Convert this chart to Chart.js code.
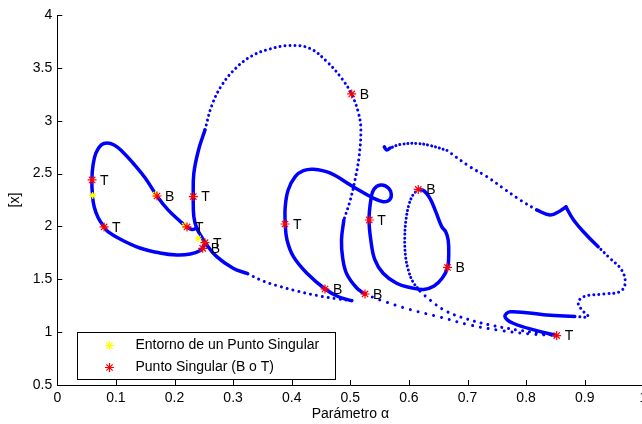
<!DOCTYPE html>
<html lang="es">
<head>
<meta charset="UTF-8" />
<title>Diagrama de continuación</title>
<script src="https://cdn.jsdelivr.net/npm/chart.js"></script>
<style>
  html, body { margin: 0; padding: 0; background: #fff; overflow: hidden; }
  #wrap { width: 670px; height: 424px; }
</style>
</head>
<body>
<div id="wrap"><canvas id="grafico" width="670" height="424"></canvas></div>
<script>
// ---- ejes ----
const xTickLabels = ['0', '0.1', '0.2', '0.3', '0.4', '0.5', '0.6', '0.7', '0.8', '0.9', '1'];
const yTickLabels = ['0.5', '1', '1.5', '2', '2.5', '3', '3.5', '4'];

// ---- tramos de la curva [alpha, |x|] ----
const loopLeft = [[0.250,1.815],[0.244,1.773],[0.227,1.739],[0.204,1.730],[0.175,1.749],[0.141,1.796],
  [0.107,1.881],[0.087,1.948],[0.080,1.995],[0.070,2.080],[0.063,2.184],[0.060,2.298],[0.059,2.440],
  [0.061,2.581],[0.066,2.695],[0.075,2.771],[0.085,2.790],[0.097,2.771],[0.110,2.714],[0.129,2.600],
  [0.150,2.458],[0.170,2.288],[0.189,2.156],[0.209,2.052],[0.221,1.995],[0.230,1.971],[0.238,1.985]];
const riseLeft = [[0.324,1.555],[0.300,1.604],[0.272,1.714],[0.255,1.825],[0.246,1.903],[0.238,1.983],
  [0.233,2.092],[0.232,2.282],[0.233,2.503],[0.241,2.723],[0.252,2.913]];
const archTop = [[0.252,2.913],[0.264,3.149],[0.281,3.338],[0.305,3.499],[0.332,3.613],[0.363,3.679],[0.397,3.712],
  [0.431,3.684],[0.460,3.559],[0.485,3.402],[0.502,3.253],[0.514,3.071],[0.518,2.913],[0.515,2.660],
  [0.508,2.440],[0.500,2.250],[0.489,2.061]];
const dropMid = [[0.489,2.061],[0.485,1.872],[0.487,1.702],[0.494,1.550],[0.511,1.418],[0.525,1.361]];
const tailLow = [[0.525,1.361],[0.551,1.304],[0.602,1.214],[0.653,1.143],[0.704,1.068],[0.756,1.016],
  [0.807,0.983],[0.852,0.968]];
const diagLeft = [[0.503,1.299],[0.479,1.314],[0.443,1.347],[0.409,1.389],[0.380,1.432],[0.351,1.484],[0.324,1.555]];
const midWind = [[0.502,1.298],[0.480,1.335],[0.457,1.408],[0.426,1.557],[0.403,1.714],[0.392,1.872],
  [0.389,2.023],[0.389,2.187],[0.394,2.345],[0.406,2.471],[0.420,2.527],[0.437,2.541],[0.465,2.506],
  [0.505,2.376],[0.539,2.269],[0.556,2.234],[0.566,2.246],[0.570,2.298],[0.565,2.364],[0.552,2.392],
  [0.540,2.350],[0.535,2.250],[0.532,2.061],[0.535,1.872],[0.542,1.683],[0.556,1.557],[0.579,1.462],
  [0.602,1.422],[0.625,1.404],[0.643,1.437],[0.657,1.512],[0.666,1.612],[0.668,1.749],[0.667,1.872],
  [0.663,1.948],[0.656,1.998],[0.646,2.137],[0.636,2.266],[0.626,2.335],[0.616,2.350]];
const loopDropA = [[0.616,2.350],[0.607,2.298],[0.600,2.203],[0.595,2.061],[0.593,1.900],[0.594,1.730],
  [0.599,1.588],[0.607,1.475],[0.619,1.389]];
const loopDropB = [[0.619,1.389],[0.636,1.304],[0.663,1.200],[0.699,1.124],[0.738,1.068],[0.790,1.016],[0.852,0.968]];
const eastA = [[0.852,0.968],[0.818,1.014],[0.778,1.084],[0.764,1.146],[0.773,1.193],[0.835,1.162],[0.883,1.148]];
const eastB = [[0.883,1.148],[0.906,1.146],[0.898,1.194],[0.889,1.273],[0.898,1.335],[0.932,1.361],
  [0.960,1.383],[0.969,1.462],[0.963,1.588],[0.943,1.699],[0.923,1.808]];
const eastC = [[0.923,1.808],[0.903,1.919],[0.881,2.061],[0.868,2.185]];
const eastD = [[0.868,2.185],[0.858,2.146],[0.841,2.108],[0.818,2.156]];
const eastE = [[0.818,2.156],[0.790,2.250],[0.761,2.361],[0.733,2.471],[0.704,2.565],[0.665,2.719]];
const eastF = [[0.665,2.719],[0.636,2.766],[0.613,2.785],[0.585,2.775],[0.568,2.742]];
const hook = [[0.568,2.742],[0.562,2.723],[0.558,2.752]];

// ---- puntos singulares (B = bifurcación, T = punto de retorno) ----
const singularPts = [[0.0594,2.440],[0.0799,1.995],[0.1701,2.288],[0.2321,2.282],[0.2213,1.995],
  [0.2520,1.846],[0.2481,1.793],[0.3886,2.023],[0.5024,3.253],[0.5324,2.061],[0.4568,1.408],
  [0.5251,1.361],[0.6160,2.350],[0.6659,1.612],[0.8522,0.968]];
const singularTags = ['T','T','B','T','T','T','B','T','B','T','B','B','B','B','T'];
const entornoPts = [[0.0604,2.293],[0.1676,2.302],[0.2171,2.009],[0.2406,1.888]];

const FONT = { family: '"Liberation Sans", Arial, Helvetica, sans-serif', size: 14 };
const AZUL = '#0000ff';
const toXY = arr => arr.map(p => ({ x: p[0], y: p[1] }));

// gap = 0 -> trazo continuo, si no puntos separados gap px
function tramo(pts, gap) {
  return {
    data: toXY(pts), showLine: true, pointRadius: 0, fill: false,
    borderColor: AZUL, borderWidth: gap ? 3 : 3.5,
    borderDash: gap ? [0.01, gap] : [],
    borderCapStyle: 'round', borderJoinStyle: 'round', tension: 0.4
  };
}

function asterisco(ctx, x, y, r, color) {
  ctx.save();
  ctx.strokeStyle = color;
  ctx.lineWidth = 1.2;
  ctx.beginPath();
  for (let k = 0; k < 4; k++) {
    const a = k * Math.PI / 4, dx = Math.cos(a) * r, dy = Math.sin(a) * r;
    ctx.moveTo(x - dx, y - dy);
    ctx.lineTo(x + dx, y + dy);
  }
  ctx.stroke();
  ctx.restore();
}

// marcas hacia adentro, etiquetas B/T y leyenda
const extras = {
  id: 'extras',
  afterDraw(chart) {
    const { ctx, chartArea: a, scales: { x, y } } = chart;
    ctx.save();
    ctx.strokeStyle = '#000';
    ctx.lineWidth = 1;
    ctx.beginPath();
    x.ticks.forEach(t => {
      const px = Math.round(x.getPixelForValue(t.value)) + 0.5;
      ctx.moveTo(px, a.bottom); ctx.lineTo(px, a.bottom - 5);
    });
    y.ticks.forEach(t => {
      const py = Math.round(y.getPixelForValue(t.value)) + 0.5;
      ctx.moveTo(a.left, py); ctx.lineTo(a.left + 5, py);
    });
    ctx.stroke();

    ctx.fillStyle = '#000';
    ctx.font = FONT.size + 'px ' + FONT.family;
    ctx.textBaseline = 'middle';
    ctx.textAlign = 'left';
    singularPts.forEach((p, i) => {
      ctx.fillText(singularTags[i], x.getPixelForValue(p[0]) + 8, y.getPixelForValue(p[1]) + 1);
    });

    // leyenda
    const lx = Math.round(a.left + 20) + 0.5, ly = Math.round(a.bottom - 53) + 0.5;
    const lw = 258, lh = 47;
    ctx.fillStyle = '#fff';
    ctx.fillRect(lx, ly, lw, lh);
    ctx.strokeRect(lx, ly, lw, lh);
    asterisco(ctx, lx + 32, ly + 13, 4.5, '#ffff00');
    asterisco(ctx, lx + 32, ly + 35, 4.5, '#ff0000');
    ctx.fillStyle = '#000';
    ctx.fillText('Entorno de un Punto Singular', lx + 58, ly + 13);
    ctx.fillText('Punto Singular (B o T)', lx + 58, ly + 35);
    ctx.restore();
  }
};

const ctx = document.getElementById('grafico').getContext('2d');
Chart.defaults.color = '#000';
Chart.defaults.font.family = FONT.family;
Chart.defaults.font.size = FONT.size;

new Chart(ctx, {
  type: 'scatter',
  data: {
    datasets: [
      {
        data: toXY(singularPts), pointStyle: 'star', pointRadius: 4.5,
        pointBorderColor: '#ff0000', pointBorderWidth: 1.2, borderColor: '#ff0000', showLine: false
      },
      {
        data: toXY(entornoPts), pointStyle: 'star', pointRadius: 3.5,
        pointBorderColor: '#ffff00', pointBorderWidth: 1.2, borderColor: '#ffff00', showLine: false
      },
      tramo(loopLeft, 0),
      tramo(riseLeft, 0),
      tramo(archTop, 5),
      tramo(dropMid, 0),
      tramo(tailLow, 8),
      tramo(diagLeft, 6),
      tramo(midWind, 0),
      tramo(loopDropA, 4),
      tramo(loopDropB, 7),
      tramo(eastA, 0),
      tramo(eastB, 5),
      tramo(eastC, 0),
      tramo(eastD, 0),
      tramo(eastE, 6),
      tramo(eastF, 4),
      tramo(hook, 0)
    ]
  },
  options: {
    responsive: false,
    animation: false,
    events: [],
    layout: { padding: { left: 0, right: 26.7, top: 15, bottom: 0 } },
    scales: {
      x: {
        type: 'linear', min: 0, max: 1,
        afterFit(s) { s.height = 39; },
        afterBuildTicks(s) { s.ticks = xTickLabels.map(t => ({ value: parseFloat(t) })); },
        ticks: { callback: (v, i) => xTickLabels[i], padding: 5, maxRotation: 0, autoSkip: false },
        grid: { display: false, drawTicks: false, tickLength: 0 },
        border: { display: true, color: '#000', width: 1 },
        title: { display: true, text: 'Parámetro α', padding: { top: 0, bottom: 1.6 } }
      },
      y: {
        type: 'linear', min: 0.5, max: 4,
        afterFit(s) { s.width = 57.3; },
        afterBuildTicks(s) { s.ticks = yTickLabels.map(t => ({ value: parseFloat(t) })); },
        ticks: { callback: (v, i) => yTickLabels[i], padding: 5, autoSkip: false },
        grid: { display: false, drawTicks: false, tickLength: 0 },
        border: { display: true, color: '#000', width: 1 },
        title: { display: true, text: '[x]', padding: { top: 6.6, bottom: 0 } }
      }
    },
    plugins: { legend: { display: false }, tooltip: { enabled: false } }
  },
  plugins: [extras]
});
</script>
</body>
</html>
